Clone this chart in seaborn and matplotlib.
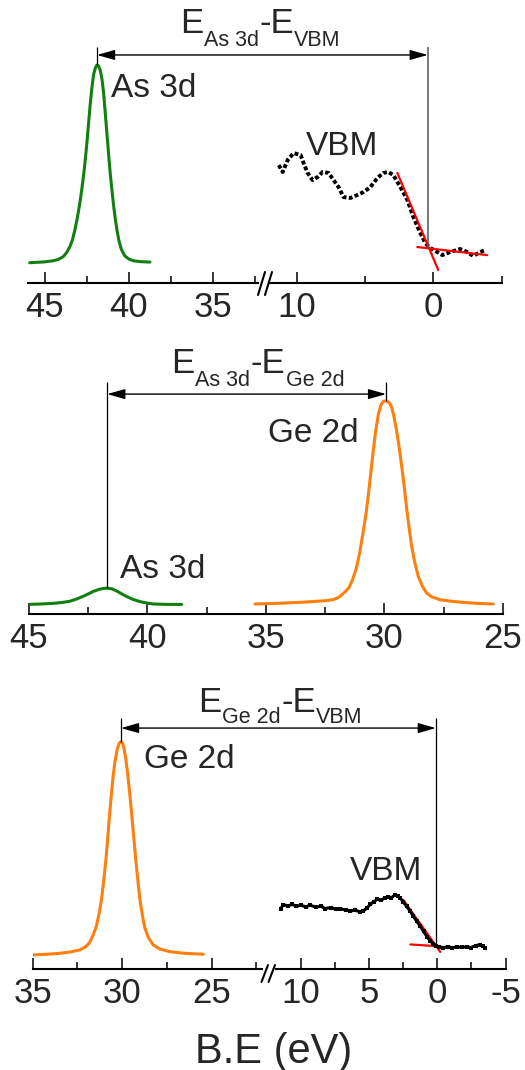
import matplotlib
matplotlib.use('Agg')
import matplotlib.pyplot as plt
from matplotlib.lines import Line2D
import seaborn as sns

# ---------------- data (binding energy in eV, intensity normalised) ----------------
# panel 1: As 3d core level + valence band
as3d_a_be = [45.9, 45.0, 44.5, 44.2, 43.9, 43.7, 43.5, 43.35, 43.2, 43.05, 42.9, 42.8,
             42.7, 42.6, 42.5, 42.4, 42.3, 42.2, 42.1, 42.0, 41.9, 41.8, 41.7, 41.6,
             41.5, 41.4, 41.3, 41.2, 41.1, 41.0, 40.9, 40.8, 40.7, 40.6, 40.45, 40.25,
             40.0, 39.75, 39.3, 38.75]
as3d_a_int = [0.093, 0.097, 0.102, 0.108, 0.121, 0.140, 0.168, 0.200, 0.247, 0.305, 0.375,
              0.430, 0.490, 0.560, 0.640, 0.730, 0.820, 0.895, 0.955, 0.985, 1.0, 0.995,
              0.975, 0.935, 0.870, 0.775, 0.680, 0.585, 0.495, 0.420, 0.350, 0.290, 0.240,
              0.197, 0.155, 0.125, 0.110, 0.102, 0.098, 0.096]
vb_a_be = [11.31, 11.02, 10.66, 10.22, 9.71, 9.49, 9.20, 8.83, 8.47, 8.10, 7.66, 7.30,
           6.93, 6.57, 6.06, 5.55, 5.11, 4.60, 4.09, 3.65, 3.28, 2.92, 2.41, 1.90, 1.46,
           0.95, 0.58, 0.22, -0.29, -0.66, -1.24, -1.97, -2.48, -2.92, -3.43, -3.80]
vb_a_int = [0.541, 0.509, 0.564, 0.596, 0.587, 0.550, 0.505, 0.472, 0.486, 0.509, 0.505,
            0.472, 0.440, 0.394, 0.390, 0.404, 0.417, 0.440, 0.482, 0.505, 0.509, 0.495,
            0.440, 0.381, 0.303, 0.229, 0.183, 0.161, 0.142, 0.128, 0.142, 0.156, 0.142,
            0.124, 0.142, 0.151]
fit_a_edge_be = [2.63, -0.36]
fit_a_edge_int = [0.505, 0.060]
fit_a_bg_be = [1.17, -3.94]
fit_a_bg_int = [0.165, 0.128]
vbm_a = 0.4
as3d_a_peak = 41.9

# panel 2: As 3d + Ge 2d
as3d_b_be = [45.03, 44.5, 43.97, 43.6, 43.27, 43.0, 42.71, 42.5, 42.29, 42.05, 41.86,
             41.7, 41.5, 41.3, 41.1, 40.88, 40.6, 40.32, 40.0, 39.76, 39.2, 38.56]
as3d_b_int = [0.045, 0.047, 0.050, 0.054, 0.060, 0.070, 0.083, 0.094, 0.106, 0.115, 0.120,
              0.121, 0.118, 0.108, 0.095, 0.082, 0.068, 0.058, 0.051, 0.047, 0.045, 0.045]
ge2d_b_be = [35.46, 34.5, 33.5, 32.8, 32.44, 32.15, 31.95, 31.8, 31.65, 31.5, 31.35, 31.2,
             31.05, 30.9, 30.78, 30.68, 30.57, 30.47, 30.37, 30.26, 30.15, 30.05, 29.92,
             29.80, 29.70, 29.60, 29.49, 29.38, 29.27, 29.16, 29.06, 28.95, 28.85, 28.72,
             28.57, 28.40, 28.22, 28.0, 27.66, 27.2, 26.53, 25.9, 25.41]
ge2d_b_int = [0.047, 0.050, 0.055, 0.060, 0.063, 0.068, 0.077, 0.090, 0.105, 0.124, 0.160,
              0.210, 0.285, 0.385, 0.470, 0.560, 0.670, 0.770, 0.860, 0.935, 0.980, 0.997,
              1.0, 0.990, 0.970, 0.925, 0.860, 0.780, 0.690, 0.590, 0.490, 0.395, 0.315,
              0.240, 0.175, 0.130, 0.098, 0.080, 0.067, 0.060, 0.053, 0.049, 0.047]
as3d_b_peak = 41.7
ge2d_b_peak = 29.93

# panel 3: Ge 2d + valence band
ge2d_c_be = [34.98, 34.2, 33.49, 32.9, 32.37, 32.1, 31.95, 31.81, 31.65, 31.55, 31.44,
             31.3, 31.16, 31.03, 30.91, 30.82, 30.73, 30.62, 30.51, 30.40, 30.28, 30.17,
             30.07, 29.98, 29.91, 29.82, 29.72, 29.60, 29.48, 29.36, 29.24, 29.12, 29.01,
             28.87, 28.73, 28.55, 28.27, 27.9, 27.33, 26.5, 25.47]
ge2d_c_int = [0.062, 0.065, 0.069, 0.075, 0.084, 0.095, 0.105, 0.118, 0.145, 0.165, 0.190,
              0.240, 0.304, 0.390, 0.480, 0.565, 0.656, 0.755, 0.846, 0.915, 0.965, 0.993,
              1.0, 0.992, 0.975, 0.935, 0.876, 0.790, 0.690, 0.585, 0.480, 0.385, 0.305,
              0.235, 0.180, 0.140, 0.106, 0.088, 0.076, 0.069, 0.065]
vb_c_be = [11.45, 11.3, 10.9, 10.6, 10.3, 10.0, 9.6, 9.3, 8.9, 8.5, 8.2, 7.8, 7.4, 7.1, 6.7,
           6.35, 6.0, 5.65, 5.4, 5.15, 4.9, 4.65, 4.4, 4.1, 3.85, 3.6, 3.35, 3.1, 2.9, 2.7,
           2.5, 2.25, 2.0, 1.75, 1.5, 1.25, 1.0, 0.75, 0.5, 0.3, 0.1, -0.15, -0.45, -0.8,
           -1.1, -1.45, -1.8, -2.15, -2.45, -2.8, -3.1, -3.35, -3.5]
vb_c_int = [0.262, 0.283, 0.278, 0.284, 0.276, 0.280, 0.274, 0.281, 0.272, 0.276, 0.266,
            0.270, 0.263, 0.266, 0.259, 0.256, 0.258, 0.252, 0.256, 0.268, 0.284, 0.296,
            0.306, 0.303, 0.312, 0.316, 0.314, 0.326, 0.322, 0.312, 0.296, 0.276, 0.256,
            0.232, 0.210, 0.188, 0.165, 0.142, 0.122, 0.112, 0.101, 0.097, 0.094, 0.098,
            0.093, 0.097, 0.095, 0.098, 0.094, 0.103, 0.106, 0.100, 0.092]
fit_c_edge_be = [2.48, -0.22]
fit_c_edge_int = [0.304, 0.075]
fit_c_bg_be = [1.97, -0.1]
fit_c_bg_int = [0.108, 0.100]
vbm_c = 0.1
ge2d_c_peak = 30.07

GREEN = '#118011'
ORANGE = '#ff7f0e'
RED = '#ff0000'

sns.set_style('white')
plt.rcParams['font.family'] = ['Liberation Sans', 'DejaVu Sans']
plt.rcParams['axes.unicode_minus'] = False

W, H = 525, 1070
TOP = 1.25
fig = plt.figure(figsize=(W / 100, H / 100), dpi=100)


def make_axes(x0, x1, y_base, px_per_unit, xlim, major, minor):
    ax = fig.add_axes([x0 / W, 1 - y_base / H, (x1 - x0) / W, TOP * px_per_unit / H])
    ax.patch.set_visible(False)
    ax.set_xlim(*xlim)
    ax.set_ylim(0, TOP)
    for s in ['left', 'right', 'top']:
        ax.spines[s].set_visible(False)
    ax.spines['bottom'].set_linewidth(1.5)
    ax.spines['bottom'].set_color('k')
    ax.set_yticks([])
    ax.set_xticks(major)
    ax.set_xticks(minor, minor=True)
    ax.tick_params(axis='x', which='both', direction='in', bottom=True, top=False,
                   color='k', width=1.1)
    ax.tick_params(axis='x', which='major', length=8, labelsize=25, pad=6)
    ax.tick_params(axis='x', which='minor', length=5)
    return ax


def fpx(xs, ys):
    return [x / W for x in xs], [1 - y / H for y in ys]


def break_marks(x, y_bot, dx, dy, gap=7):
    for off in (0, gap):
        xs, ys = fpx([x + off, x + off + dx], [y_bot, y_bot - dy])
        fig.add_artist(Line2D(xs, ys, color='k', lw=1.5))


def span_arrow(ax_from, x_from, ax_to, x_to, y):
    ax_to.annotate('', xy=(x_to, y), xycoords=ax_to.transData,
                   xytext=(x_from, y), textcoords=ax_from.transData,
                   annotation_clip=False,
                   arrowprops=dict(arrowstyle='<|-|>,head_length=0.6,head_width=0.17',
                                   mutation_scale=18, color='k', lw=1.0,
                                   shrinkA=0, shrinkB=0))


renderer = fig.canvas.get_renderer()


def sub_title(x_px, base_px, parts, drop=12.5):
    # parts: list of (text, is_subscript); pieces laid out left to right
    x = x_px
    for txt, sub in parts:
        y = base_px + (drop if sub else 0)
        t = fig.text(x / W, 1 - y / H, txt, fontsize=15.5 if sub else 25,
                     ha='left', va='baseline')
        bb = t.get_window_extent(renderer)
        x = bb.x1 + 0.5


def peak(ax, x, y, color, lw=2.2):
    sns.lineplot(x=x, y=y, ax=ax, color=color, lw=lw, sort=False,
                 estimator=None, solid_joinstyle='round')


def fit_line(ax, x, y):
    sns.lineplot(x=x, y=y, ax=ax, color=RED, lw=1.6, sort=False, estimator=None)


# ---------------- panel 1 ----------------
a1 = make_axes(28, 258, 283, 218, (46.0, 32.32), [45, 40, 35], [42.5, 37.5, 32.5])
a2 = make_axes(270, 501.6, 283, 218, (11.95, -5.0), [10, 0], [5, -5])
peak(a1, as3d_a_be, as3d_a_int, GREEN)
sns.lineplot(x=vb_a_be, y=vb_a_int, ax=a2, color='k', lw=2.8, sort=False, estimator=None,
             linestyle=(0, (1.0, 0.6)), dash_capstyle='butt')
fit_line(a2, fit_a_edge_be, fit_a_edge_int)
fit_line(a2, fit_a_bg_be, fit_a_bg_int)
a1.vlines(as3d_a_peak, 1.0, 1.083, color='k', lw=0.9, clip_on=False)
a2.vlines(vbm_a, 0.161, 1.083, color='#555555', lw=1.1, clip_on=False)
span_arrow(a1, as3d_a_peak, a2, vbm_a, 1.046)
a1.text(41.07, 0.853, 'As 3d', fontsize=24, ha='left', va='baseline')
a2.text(9.34, 0.587, 'VBM', fontsize=24, ha='left', va='baseline')
break_marks(258, 295, 7, 23)
sub_title(180, 33.3, [('E', False), ('As 3d', True), ('-E', False), ('VBM', True)], drop=13)

# ---------------- panel 2 ----------------
b1 = make_axes(29, 503, 614, 213.3, (45, 25), [45, 40, 35, 30, 25], [42.5, 37.5, 32.5, 27.5])
peak(b1, as3d_b_be, as3d_b_int, GREEN)
peak(b1, ge2d_b_be, ge2d_b_int, ORANGE)
b1.vlines(as3d_b_peak, 0.122, 1.088, color='k', lw=0.9, clip_on=False)
b1.vlines(ge2d_b_peak, 1.0, 1.088, color='k', lw=0.9, clip_on=False)
span_arrow(b1, as3d_b_peak, b1, ge2d_b_peak, 1.031)
b1.text(34.92, 0.808, 'Ge 2d', fontsize=24, ha='left', va='baseline')
b1.text(41.16, 0.167, 'As 3d', fontsize=24, ha='left', va='baseline')
sub_title(171.5, 373.3, [('E', False), ('As 3d', True), ('-E', False), ('Ge 2d', True)], drop=12.7)

# ---------------- panel 3 ----------------
c1 = make_axes(32.7, 262, 969, 227.3, (35, 22.19), [35, 30, 25], [32.5, 27.5, 22.5])
c2 = make_axes(276, 506, 969, 227.3, (11.8, -5.03), [10, 5, 0, -5], [7.5, 2.5, -2.5])
peak(c1, ge2d_c_be, ge2d_c_int, ORANGE)
fit_line(c2, fit_c_edge_be, fit_c_edge_int)
fit_line(c2, fit_c_bg_be, fit_c_bg_int)
sns.lineplot(x=vb_c_be, y=vb_c_int, ax=c2, color='k', lw=2.2, sort=False, estimator=None,
             marker='s', markersize=3.5, markeredgewidth=0)
c1.vlines(ge2d_c_peak, 1.0, 1.104, color='k', lw=0.9, clip_on=False)
c2.vlines(vbm_c, 0.097, 1.104, color='k', lw=0.9, clip_on=False)
span_arrow(c1, ge2d_c_peak, c2, vbm_c, 1.060)
c1.text(28.79, 0.883, 'Ge 2d', fontsize=24, ha='left', va='baseline')
c2.text(6.42, 0.392, 'VBM', fontsize=24, ha='left', va='baseline')
break_marks(261.5, 982, 6.5, 17)
sub_title(198.5, 711.7, [('E', False), ('Ge 2d', True), ('-E', False), ('VBM', True)], drop=11.7)

fig.text(274 / W, 1 - 1063 / H, 'B.E (eV)', fontsize=30, ha='center', va='baseline')

fig.savefig('out.png', dpi=100)
